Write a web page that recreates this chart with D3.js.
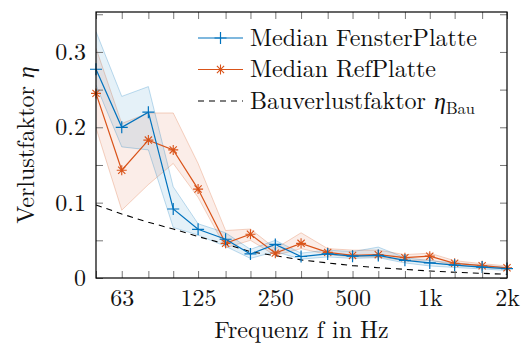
<!DOCTYPE html>
<html>
<head>
<meta charset="utf-8">
<script src="https://cdn.jsdelivr.net/npm/d3@7"></script>
<style>
  body { margin: 0; background: #fff; }
</style>
</head>
<body>
<div class="chart"></div>
<script>
'use strict';

// third-octave bands
const freqs = [50, 63, 80, 100, 125, 160, 200, 250, 315, 400, 500, 630, 800, 1000, 1250, 1600, 2000];
const freqLabels = {63: '63', 125: '125', 250: '250', 500: '500', 1000: '1k', 2000: '2k'};
const yTicks = [0, 0.05, 0.1, 0.15, 0.2, 0.25, 0.3, 0.35];
const yLabels = {0: '0', 0.1: '0.1', 0.2: '0.2', 0.3: '0.3'};

const fensterMedian = [0.277, 0.200, 0.220, 0.0916, 0.0646, 0.0514, 0.0319, 0.0445, 0.0285, 0.032, 0.029, 0.030, 0.0235, 0.020, 0.017, 0.0145, 0.0125];
const fensterUpper  = [0.327, 0.241, 0.254, 0.121, 0.072, 0.060, 0.038, 0.050, 0.033, 0.037, 0.035, 0.041, 0.027, 0.023, 0.020, 0.017, 0.014];
const fensterLower  = [0.256, 0.174, 0.170, 0.067, 0.057, 0.042, 0.026, 0.035, 0.025, 0.028, 0.026, 0.027, 0.020, 0.016, 0.014, 0.012, 0.010];

const refMedian = [0.245, 0.143, 0.183, 0.170, 0.118, 0.046, 0.058, 0.033, 0.046, 0.034, 0.030, 0.031, 0.027, 0.029, 0.0195, 0.0163, 0.0135];
const refUpper  = [0.305, 0.205, 0.219, 0.219, 0.152, 0.063, 0.065, 0.039, 0.060, 0.039, 0.037, 0.037, 0.031, 0.033, 0.023, 0.019, 0.016];
const refLower  = [0.199, 0.090, 0.124, 0.152, 0.107, 0.040, 0.050, 0.030, 0.039, 0.031, 0.028, 0.028, 0.023, 0.024, 0.017, 0.014, 0.012];

const bauFaktor = [0.097, 0.085, 0.074, 0.065, 0.055, 0.045, 0.035, 0.0296, 0.024, 0.020, 0.0164, 0.0137, 0.0115, 0.0093, 0.0076, 0.0062, 0.0049];

const blue = '#0072BD';
const orange = '#D95319';

const W = 528, H = 347;
const margin = {top: 12, right: 21, bottom: 69, left: 96};
const width = W - margin.left - margin.right;
const height = H - margin.top - margin.bottom;
const fontSize = 24;
const fontFamily = "'Latin Modern Roman', 'Liberation Serif', serif";

const svg = d3.select('.chart').append('svg')
    .attr('width', W)
    .attr('height', H);

const g = svg.append('g')
    .attr('transform', `translate(${margin.left},${margin.top})`);

const x = d3.scaleLog().domain([50, 2000]).range([0, width]);
const y = d3.scaleLinear().domain([0, 0.353]).range([height, 0]);

function rows(med, lo, hi) {
    return freqs.map((f, i) => ({f, v: med[i], lo: lo ? lo[i] : null, hi: hi ? hi[i] : null}));
}

const series = [
    {name: 'Median FensterPlatte', color: blue, marker: 'plus', data: rows(fensterMedian, fensterLower, fensterUpper)},
    {name: 'Median RefPlatte', color: orange, marker: 'star', data: rows(refMedian, refLower, refUpper)}
];

const area = d3.area().x(d => x(d.f)).y0(d => y(d.lo)).y1(d => y(d.hi));
const lineLo = d3.line().x(d => x(d.f)).y(d => y(d.lo));
const lineHi = d3.line().x(d => x(d.f)).y(d => y(d.hi));
const line = d3.line().x(d => x(d.f)).y(d => y(d.v));

svg.append('clipPath').attr('id', 'clip')
    .append('rect').attr('width', width).attr('height', height);

const plot = g.append('g').attr('clip-path', 'url(#clip)');

// bands first (ref under fenster)
[series[1], series[0]].forEach(s => {
    plot.append('path').datum(s.data)
        .attr('d', area)
        .attr('fill', s.color)
        .attr('fill-opacity', 0.1);
    [lineLo, lineHi].forEach(l => {
        plot.append('path').datum(s.data)
            .attr('d', l)
            .attr('fill', 'none')
            .attr('stroke', s.color)
            .attr('stroke-opacity', 0.25)
            .attr('stroke-width', 1);
    });
});

// Bauverlustfaktor
plot.append('path').datum(rows(bauFaktor))
    .attr('d', line)
    .attr('fill', 'none')
    .attr('stroke', '#000')
    .attr('stroke-width', 1.1)
    .attr('stroke-dasharray', '6,5');

function drawMarker(sel, type, color) {
    if (type === 'plus') {
        sel.append('path')
            .attr('d', 'M-6,0H6M0,-6V6')
            .attr('stroke', color).attr('stroke-width', 1.2).attr('fill', 'none');
    } else {
        sel.append('path')
            .attr('d', 'M-5,0H5M0,-5V5M-3.6,-3.6L3.6,3.6M-3.6,3.6L3.6,-3.6')
            .attr('stroke', color).attr('stroke-width', 1.1).attr('fill', 'none');
    }
}

series.slice().reverse().forEach(s => {
    g.append('path').datum(s.data)
        .attr('d', line)
        .attr('fill', 'none')
        .attr('stroke', s.color)
        .attr('stroke-width', 1.2);
    g.selectAll(null).data(s.data).enter().append('g')
        .attr('transform', d => `translate(${x(d.f)},${y(d.v)})`)
        .each(function () { drawMarker(d3.select(this), s.marker, s.color); });
});

// axes, ticks inward on all sides
const tickLen = 7;
g.append('g').attr('class', 'axis')
    .attr('transform', `translate(0,${height})`)
    .call(d3.axisBottom(x).tickValues(freqs).tickSize(-tickLen).tickPadding(11)
        .tickFormat(d => freqLabels[d] || ''));
g.append('g').attr('class', 'axis')
    .call(d3.axisTop(x).tickValues(freqs).tickSize(-tickLen).tickFormat(''));
g.append('g').attr('class', 'axis')
    .call(d3.axisLeft(y).tickValues(yTicks).tickSize(-tickLen).tickPadding(10)
        .tickFormat(d => yLabels[d] !== undefined ? yLabels[d] : ''));
g.append('g').attr('class', 'axis')
    .attr('transform', `translate(${width},0)`)
    .call(d3.axisRight(y).tickValues(yTicks).tickSize(-tickLen).tickFormat(''));

g.selectAll('.axis .domain').remove();
g.selectAll('.axis line').attr('stroke', '#777').attr('stroke-width', 1);
g.selectAll('.axis text')
    .style('font-family', fontFamily)
    .style('font-size', fontSize + 'px')
    .attr('fill', '#111');

g.append('rect')
    .attr('width', width).attr('height', height)
    .attr('fill', 'none').attr('stroke', '#000').attr('stroke-width', 1.2);

// axis titles
svg.append('text')
    .attr('x', margin.left + width / 2)
    .attr('y', 338)
    .attr('text-anchor', 'middle')
    .attr('fill', '#111')
    .style('font-family', fontFamily)
    .style('font-size', fontSize + 'px')
    .text('Frequenz f in Hz');

const yt = svg.append('text')
    .attr('transform', `translate(34,${margin.top + height / 2}) rotate(-90)`)
    .attr('text-anchor', 'middle')
    .attr('fill', '#111')
    .style('font-family', fontFamily)
    .style('font-size', fontSize + 'px');
yt.append('tspan').text('Verlustfaktor ');
yt.append('tspan').attr('font-style', 'italic').text('η');

// legend
const legend = svg.append('g').attr('transform', 'translate(198,38)');
const rowH = 31.5;
const items = [
    {type: 'plus', color: blue, label: 'Median FensterPlatte'},
    {type: 'star', color: orange, label: 'Median RefPlatte'},
    {type: 'dash', color: '#000', label: 'Bauverlustfaktor '}
];
items.forEach((it, i) => {
    const row = legend.append('g').attr('transform', `translate(0,${i * rowH})`);
    row.append('line')
        .attr('x1', 0).attr('x2', 45)
        .attr('stroke', it.color)
        .attr('stroke-width', it.type === 'dash' ? 1.1 : 1.2)
        .attr('stroke-dasharray', it.type === 'dash' ? '6,5' : null);
    if (it.type !== 'dash') {
        const m = row.append('g').attr('transform', 'translate(22.5,0)');
        drawMarker(m, it.type, it.color);
    }
    const t = row.append('text')
        .attr('x', 52).attr('y', 0).attr('dy', '0.33em')
        .attr('fill', '#111')
        .style('font-family', fontFamily)
        .style('font-size', fontSize + 'px')
        .text(it.label);
    if (it.type === 'dash') {
        t.append('tspan').attr('font-style', 'italic').text('η');
        t.append('tspan').style('font-size', '16.5px').attr('dy', '0.3em').text('Bau');
    }
});
</script>
</body>
</html>
